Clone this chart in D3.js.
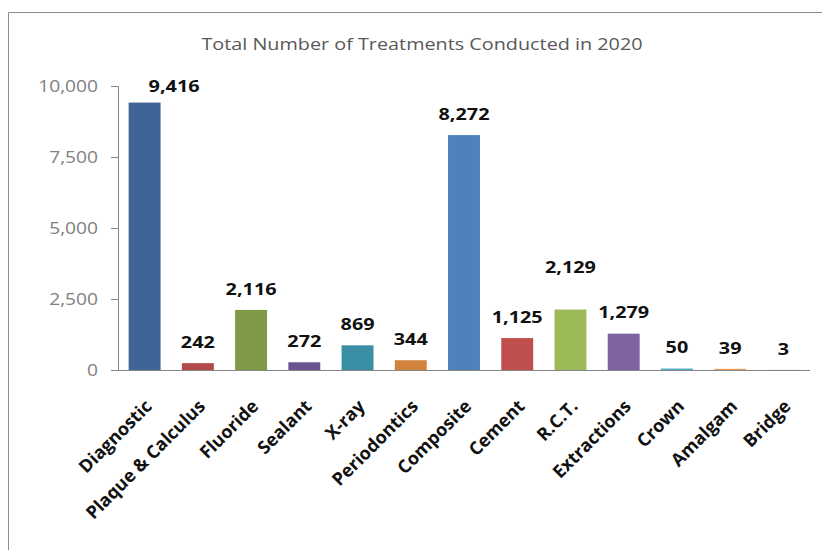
<!DOCTYPE html>
<html>
<meta charset="utf-8">
<title>treatments 2020</title>
<style>
html,body{
  margin:0;
  background:#fff;
}
text {
  font-family: "Open Sans", sans-serif;
}
.tick text {
  fill: #808080;
  font-size: 16px;
}
.label {
  font-weight: bold;
  font-size: 16.5px;
  fill: #111;
}
</style>
<script src="https://d3js.org/d3.v7.min.js"></script>
<body>
<script>

var categories = ["Diagnostic", "Plaque & Calculus", "Fluoride", "Sealant", "X-ray",
  "Periodontics", "Composite", "Cement", "R.C.T.", "Extractions", "Crown", "Amalgam", "Bridge"];
var values = [9416, 242, 2116, 272, 869, 344, 8272, 1125, 2129, 1279, 50, 39, 3];
var colors = ["#3F6496", "#B14A48", "#7E9A47", "#6A5290", "#3A8FA5", "#D1823C",
  "#4F81BD", "#C0504D", "#9BBB59", "#8064A2", "#4BACC6", "#F79646", "#2C4D75"];
var yTicks = [0, 2500, 5000, 7500, 10000];
var title = "Total Number of Treatments Conducted in 2020";

var width = 822, height = 550;
var stretch = 1.2; // the reference text is a bit wide

var svg = d3.select("body").append("svg")
    .attr("width", width)
    .attr("height", height);

// outer frame (runs off the right and bottom edges)
svg.append("path")
    .attr("d", "M8.5," + (height + 5) + "V12.5H" + (width + 5))
    .attr("fill", "none")
    .attr("stroke", "#8c8c8c");

svg.append("text")
    .attr("transform", "translate(422,50) scale(" + stretch + ",1)")
    .attr("text-anchor", "middle")
    .attr("fill", "#595959")
    .attr("font-size", "16.5px")
    .text(title);

var x = d3.scaleBand()
    .domain(categories)
    .range([118, 810])
    .paddingInner(0.4)
    .paddingOuter(0.2);

var y = d3.scaleLinear()
    .domain([0, 10000])
    .range([370, 86]);

var yAxis = svg.append("g")
    .attr("transform", "translate(118,0)")
    .call(d3.axisLeft(y).tickValues(yTicks).tickSize(7).tickPadding(12)
      .tickFormat(d3.format(",")));
yAxis.selectAll("line, path").attr("stroke", "#868686");
yAxis.selectAll(".tick text")
    .attr("x", -20 / stretch)
    .attr("transform", "scale(" + stretch + ",1)");

svg.append("line")
    .attr("x1", 111).attr("x2", 810)
    .attr("y1", 370.5).attr("y2", 370.5)
    .attr("stroke", "#868686");

svg.selectAll("rect.bar")
    .data(values)
  .enter().append("rect")
    .attr("class", "bar")
    .attr("x", function(d, i) { return x(categories[i]); })
    .attr("width", x.bandwidth())
    .attr("y", function(d) { return y(d); })
    .attr("height", function(d) { return 370 - y(d); })
    .attr("fill", function(d, i) { return colors[i]; });

// labels that would run above the plot get pushed right of the bar,
// R.C.T. label sits higher so it clears the Extractions one
svg.selectAll("text.label")
    .data(values)
  .enter().append("text")
    .attr("class", "label")
    .attr("transform", function(d, i) {
      var cx = x(categories[i]) + x.bandwidth() / 2;
      var cy = y(d) - 21;
      if (categories[i] == "R.C.T.") cy -= 21;
      if (cy < 86) { cy = 86; cx += 4; }
      return "translate(" + cx + "," + cy + ") scale(" + stretch + ",1)";
    })
    .attr("dy", "0.35em")
    .attr("text-anchor", function(d) { return y(d) - 21 < 86 ? "start" : "middle"; })
    .text(d3.format(","));

svg.selectAll("text.cat")
    .data(categories)
  .enter().append("text")
    .attr("class", "cat")
    .attr("transform", function(d) {
      return "translate(" + (x(d) + x.bandwidth() / 2 + 4) + ",403) rotate(-45)";
    })
    .attr("text-anchor", "end")
    .attr("dy", "0.35em")
    .attr("font-weight", "bold")
    .attr("font-size", "18px")
    .attr("fill", "#111")
    .text(function(d) { return d; });

</script>
</body>
</html>
